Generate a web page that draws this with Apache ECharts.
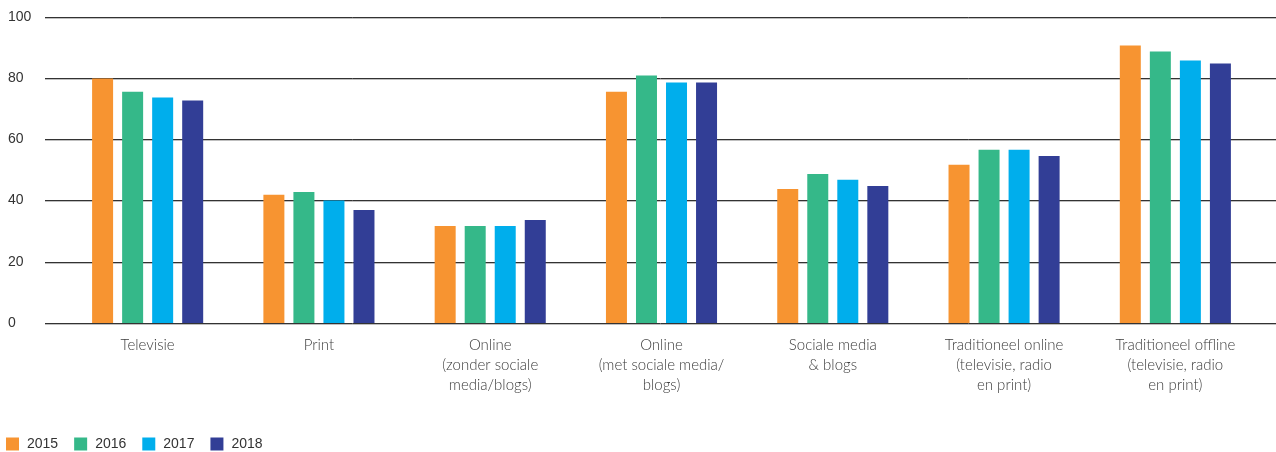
<!DOCTYPE html>
<html>
<head>
<meta charset="utf-8">
<script src="https://cdn.jsdelivr.net/npm/echarts@6/dist/echarts.min.js"></script>
<style>
  html, body { margin: 0; padding: 0; background: #fff; }
  #chart { width: 1276px; height: 452px; }
</style>
</head>
<body>
<div id="chart"></div>
<script>
// Media usage per channel, share in percent, 2015-2018
const categories = [
  'Televisie',
  'Print',
  'Online\n(zonder sociale\nmedia/blogs)',
  'Online\n(met sociale media/\nblogs)',
  'Sociale media\n& blogs',
  'Traditioneel online\n(televisie, radio\nen print)',
  'Traditioneel offline\n(televisie, radio\nen print)'
];
const years = ['2015', '2016', '2017', '2018'];
const values2015 = [79.9, 41.9, 31.7, 75.6, 43.8, 51.7, 90.7];
const values2016 = [75.6, 42.8, 31.7, 80.9, 48.7, 56.6, 88.7];
const values2017 = [73.7, 40.0, 31.7, 78.6, 46.8, 56.6, 85.8];
const values2018 = [72.7, 36.9, 33.7, 78.6, 44.8, 54.6, 84.8];
const yTicks = [0, 20, 40, 60, 80, 100];

const colors = ['#F79431', '#35B889', '#00AEEC', '#323E96'];
const seriesValues = [values2015, values2016, values2017, values2018];

// narrow-looking face for the numbers
const numberFont = "'Liberation Sans Narrow', 'Liberation Sans', Arial, sans-serif";

const chart = echarts.init(document.getElementById('chart'), null, { renderer: 'canvas' });

chart.setOption({
  animation: false,
  color: colors,
  grid: [
    // full-width grid carrying the gridlines and value labels
    { left: 45, right: 0, top: 17, bottom: 129 },
    // grid holding the bars
    { left: 62, right: 15, top: 17, bottom: 129 }
  ],
  xAxis: [
    { gridIndex: 0, type: 'value', show: false },
    {
      gridIndex: 1,
      type: 'category',
      data: categories,
      axisLine: { show: false },
      axisTick: { show: false },
      axisLabel: {
        interval: 0,
        margin: 12,
        color: '#3c3c3c',
        fontFamily: "Lato, 'Open Sans', sans-serif",
        fontWeight: 300,
        fontSize: 15,
        lineHeight: 20,
        align: 'center'
      }
    }
  ],
  yAxis: [
    {
      gridIndex: 0,
      type: 'value',
      min: yTicks[0],
      max: yTicks[yTicks.length - 1],
      interval: yTicks[1] - yTicks[0],
      axisLine: { show: false },
      axisTick: { show: false },
      axisLabel: {
        align: 'left',
        margin: 37,
        color: '#333',
        fontFamily: numberFont,
        fontSize: 14
      },
      splitLine: {
        lineStyle: {
          color: '#333',
          width: 1,
          shadowColor: 'rgba(0,0,0,0.25)',
          shadowOffsetY: 1,
          shadowBlur: 0
        }
      }
    },
    {
      gridIndex: 1,
      type: 'value',
      min: yTicks[0],
      max: yTicks[yTicks.length - 1],
      interval: yTicks[1] - yTicks[0],
      show: false,
      splitLine: { show: false }
    }
  ],
  legend: {
    left: 6,
    top: 437,
    padding: 0,
    icon: 'rect',
    itemWidth: 13,
    itemHeight: 13,
    itemGap: 16,
    data: years,
    textStyle: {
      color: '#333',
      fontFamily: numberFont,
      fontSize: 14,
      padding: [0, 0, 0, 3]
    }
  },
  series: years.map((y, i) => ({
    name: y,
    type: 'bar',
    xAxisIndex: 1,
    yAxisIndex: 1,
    barWidth: 21,
    barGap: '43%',
    data: seriesValues[i],
    itemStyle: { color: colors[i] }
  }))
});
</script>
</body>
</html>
